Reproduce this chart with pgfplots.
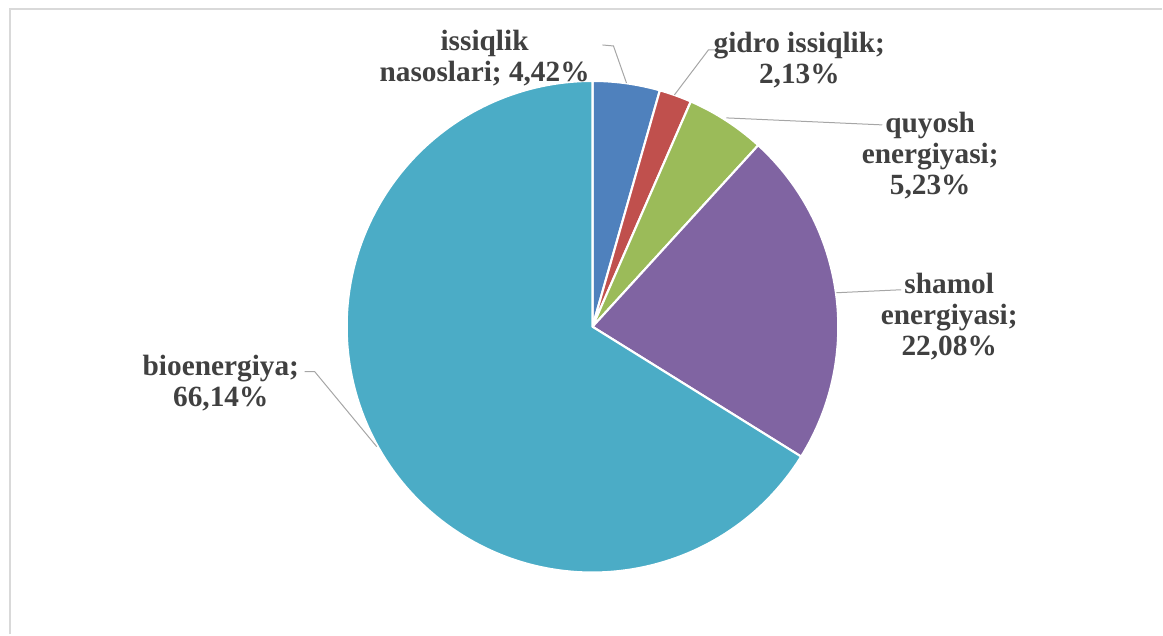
\documentclass[border=0pt]{standalone}
\usepackage{pgfplots}
\pgfplotsset{compat=1.18}
\usepackage{pgfplotstable}
\usepackage{fontspec}
\setmainfont{Liberation Serif}

\definecolor{slice0}{HTML}{4F81BD}
\definecolor{slice1}{HTML}{C0504D}
\definecolor{slice2}{HTML}{9BBB59}
\definecolor{slice3}{HTML}{8064A2}
\definecolor{slice4}{HTML}{4BACC6}
\definecolor{lbl}{HTML}{404040}
\definecolor{leader}{HTML}{A6A6A6}
\definecolor{frame}{HTML}{D9D9D9}

\tikzset{
  lbltext/.style={font=\bfseries\fontsize{22}{23.2}\selectfont,
    text=lbl, align=center, inner sep=0pt},
  leaderline/.style={draw=leader, line width=0.75pt}
}

% ulush, foizda (soat yo'nalishi bo'yicha, tepadan)
\pgfplotstableread{
value
4.42
2.13
5.23
22.08
66.14
}\piedata

\begin{document}
\begin{tikzpicture}
% burchaklarni jadvaldan hisoblash
\xdef\angcur{90}
\gdef\wedges{}
\foreach \i in {0,...,4}{
  \pgfplotstablegetelem{\i}{value}\of\piedata
  \pgfmathsetmacro{\angnext}{\angcur-3.6*\pgfplotsretval}
  \xdef\wedges{\unexpanded\expandafter{\wedges}%
    \noexpand\filldraw[fill=slice\i,draw=white,line width=1.6pt,line join=round]
    (axis cs:593,308) -- ++(\angcur:184.5pt)
    arc[start angle=\angcur,end angle=\angnext,radius=184.5pt] -- cycle;}
  \xdef\angcur{\angnext}
}
\begin{axis}[
    x=0.75pt, y=0.75pt,
    xmin=0, xmax=1163, ymin=0, ymax=635,
    hide axis, clip=false
]
  \path (axis cs:0,0) rectangle (axis cs:1163,635);
  \draw[frame, line width=1.5pt] (axis cs:10,0) -- (axis cs:10,626) -- (axis cs:1163,626);

  \wedges

  % leader lines
  \draw[leaderline] (axis cs:603,590) -- (axis cs:614,589) -- (axis cs:627,552);
  \draw[leaderline] (axis cs:718,585) -- (axis cs:709,585) -- (axis cs:675,540);
  \draw[leaderline] (axis cs:883,510) -- (axis cs:727,517);
  \draw[leaderline] (axis cs:902,345) -- (axis cs:837,342);
  \draw[leaderline] (axis cs:305,263) -- (axis cs:315,263) -- (axis cs:377,188);

  % labels
  \node[lbltext] at (axis cs:485,577) {issiqlik\\nasoslari; 4,42\%};
  \node[lbltext] at (axis cs:800,575) {gidro issiqlik;\\2,13\%};
  \node[lbltext] at (axis cs:931,479) {quyosh\\energiyasi;\\5,23\%};
  \node[lbltext] at (axis cs:950,318) {shamol\\energiyasi;\\22,08\%};
  \node[lbltext] at (axis cs:221,252) {bioenergiya;\\66,14\%};
\end{axis}
\end{tikzpicture}
\end{document}
